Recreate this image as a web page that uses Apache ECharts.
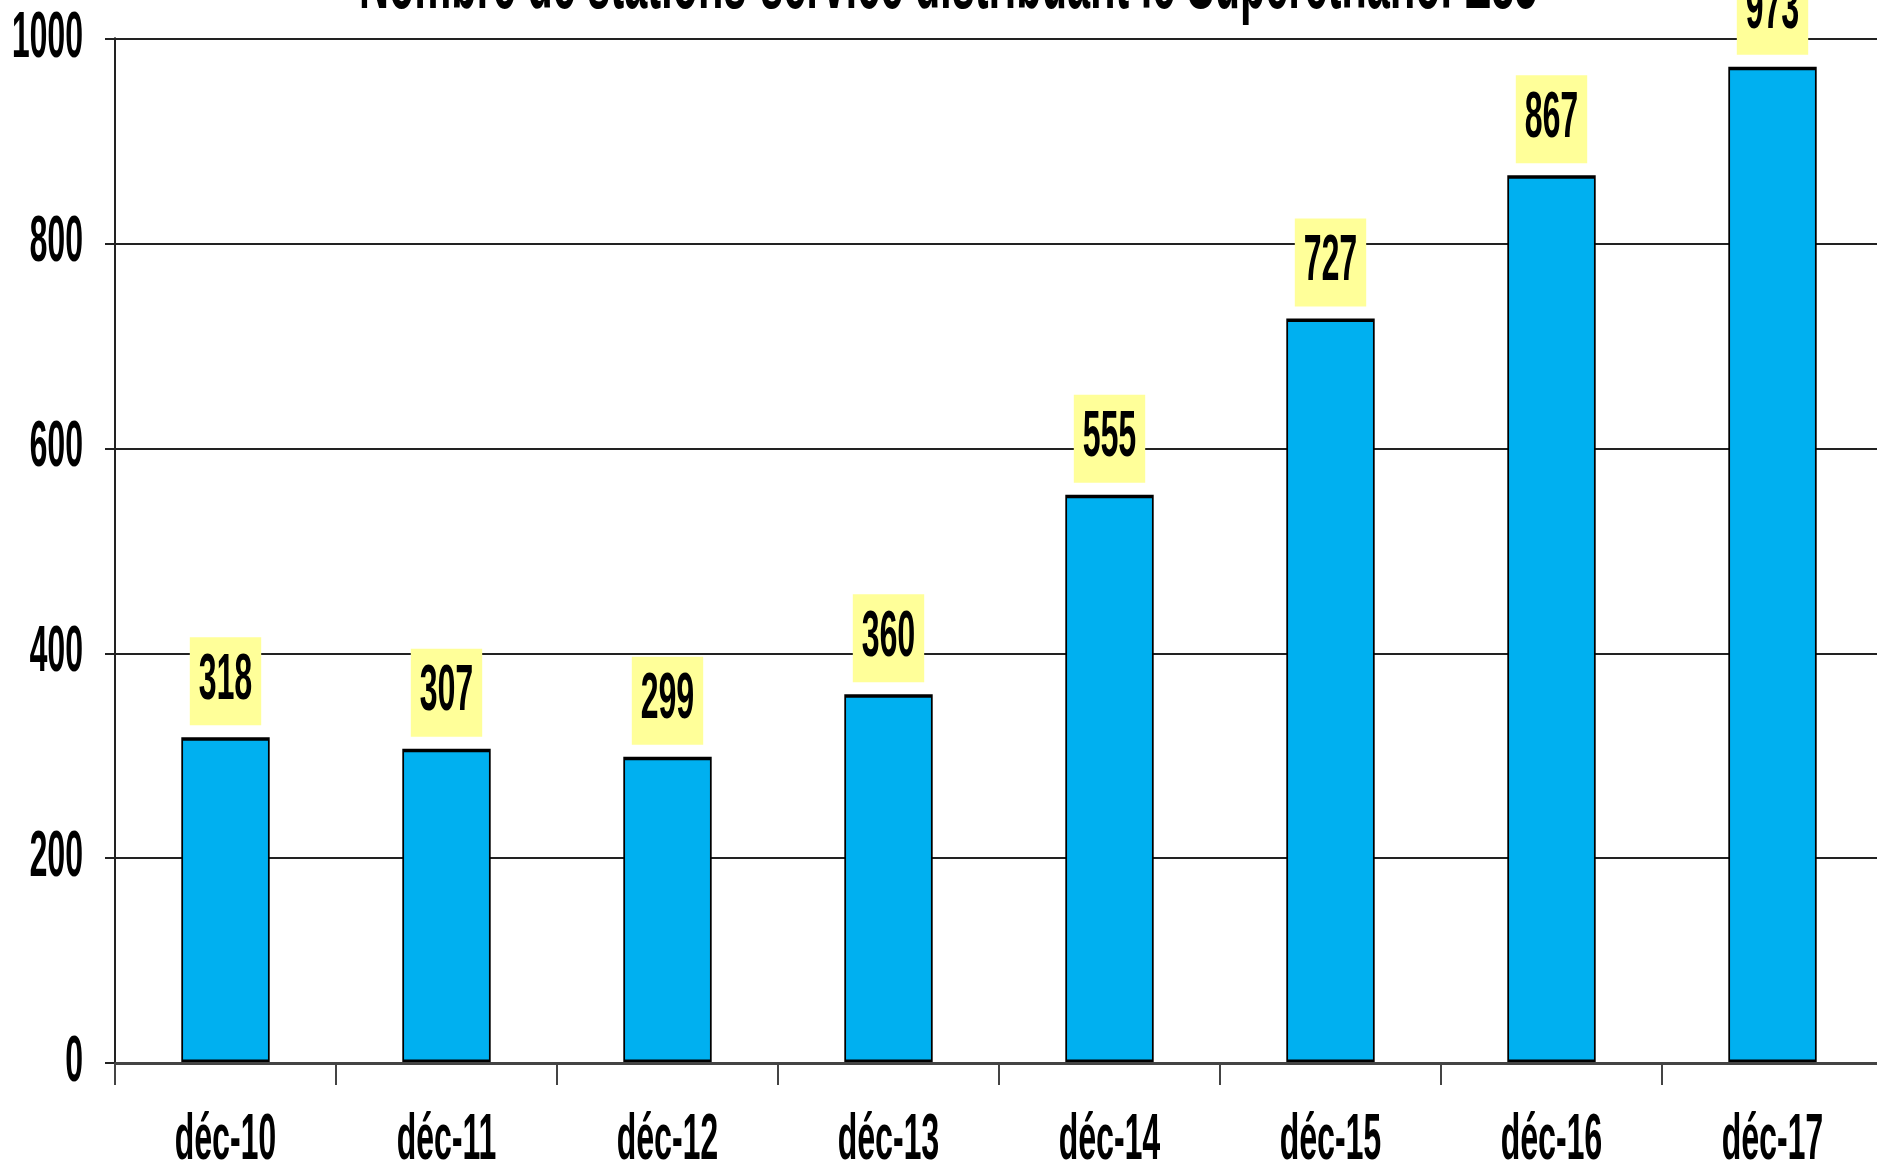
<!DOCTYPE html>
<html>
<head>
<meta charset="utf-8">
<script src="https://cdn.jsdelivr.net/npm/echarts@6/dist/echarts.min.js"></script>
<style>
html, body { margin: 0; padding: 0; overflow: hidden; background: #fff; width: 1877px; height: 1167px; }
#c { width: 3766px; height: 1167px; transform: scaleX(0.5); transform-origin: 0 0; }
</style>
</head>
<body>
<div id="c"></div>
<script>
const titleText = 'Nombre de stations-service distribuant le Superéthanol E85';
const categories = ['déc-10', 'déc-11', 'déc-12', 'déc-13', 'déc-14', 'déc-15', 'déc-16', 'déc-17'];
const stations = [318, 307, 299, 360, 555, 727, 867, 973];
const yTicks = { min: 0, max: 1000, interval: 200 };

const FONT = '"Liberation Sans", Arial, sans-serif';
const chart = echarts.init(document.getElementById('c'), null, { renderer: 'canvas' });
chart.setOption({
  animation: false,
  backgroundColor: '#ffffff',
  graphic: [{
    type: 'text',
    left: 718,
    top: -56,
    z: 100,
    style: {
      text: titleText,
      font: 'bold 83px ' + FONT,
      fill: '#000'
    }
  }],
  grid: { left: 230, right: 0, top: 39, bottom: 104, containLabel: false, outerBoundsMode: 'none' },
  xAxis: {
    type: 'category',
    data: categories,
    boundaryGap: true,
    axisLine: { show: true, lineStyle: { color: '#444', width: 3 } },
    axisTick: { show: true, length: 22, alignWithLabel: false, lineStyle: { color: '#444', width: 4 } },
    axisLabel: { color: '#000', fontSize: 64, fontWeight: 'bold', fontFamily: FONT, margin: 46 },
    splitLine: { show: false },
    z: 5
  },
  yAxis: {
    type: 'value',
    min: yTicks.min,
    max: yTicks.max,
    interval: yTicks.interval,
    axisLine: { show: true, lineStyle: { color: '#222', width: 4 } },
    axisTick: { show: true, length: 20, lineStyle: { color: '#222', width: 2 } },
    axisLabel: { color: '#000', fontSize: 64, fontWeight: 'bold', fontFamily: FONT, margin: 64, formatter: (v) => String(v) },
    splitLine: { show: true, lineStyle: { color: '#222', width: 2 } }
  },
  series: [{
    type: 'bar',
    data: stations,
    barWidth: '40%',
    itemStyle: { color: '#00B0F0', borderColor: '#000', borderWidth: 3.5 },
    label: {
      show: true,
      position: 'top',
      distance: 12,
      backgroundColor: '#FFFF99',
      padding: [12, 18],
      fontSize: 64,
      lineHeight: 64,
      fontWeight: 'bold',
      fontFamily: FONT,
      color: '#000'
    }
  }]
});
</script>
</body>
</html>
